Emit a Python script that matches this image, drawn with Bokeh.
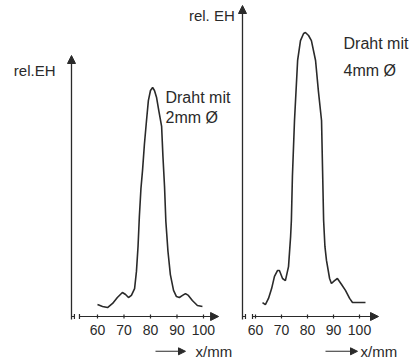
from bokeh.plotting import figure
from bokeh.models import Arrow, NormalHead, Label, FixedTicker, Range1d
from bokeh.layouts import row, column
from bokeh.embed import file_html
from bokeh.resources import INLINE

# ---- data ----
x_2mm = [60.0, 61.9, 63.8, 65.7, 67.5, 69.4, 70.6, 71.7, 72.8, 74.0, 74.7, 75.3, 75.8,
         76.4, 77.0, 77.7, 78.5, 79.2, 80.0, 80.8, 81.5, 82.3, 83.2, 84.2, 84.7, 85.3,
         85.8, 86.6, 87.5, 88.7, 89.8, 90.9, 92.1, 93.2, 94.3, 95.8, 97.7, 99.6]
rel_2mm = [0.052, 0.044, 0.039, 0.057, 0.083, 0.105, 0.096, 0.083, 0.092, 0.122, 0.197,
           0.306, 0.437, 0.559, 0.638, 0.751, 0.856, 0.943, 0.987, 1.000, 0.987, 0.956,
           0.895, 0.830, 0.699, 0.568, 0.415, 0.284, 0.183, 0.114, 0.087, 0.083, 0.092,
           0.100, 0.092, 0.070, 0.048, 0.044]

x_4mm = [62.7, 63.8, 65.0, 66.2, 67.3, 68.5, 69.2, 70.4, 71.5, 72.7, 73.5, 73.8, 74.2,
         75.0, 76.2, 77.3, 78.5, 79.2, 80.4, 81.5, 83.1, 84.2, 85.4, 85.8, 86.2, 86.7,
         87.3, 88.5, 89.2, 90.4, 91.5, 93.1, 94.6, 96.2, 97.3, 99.6, 102.3]
rel_4mm = [0.061, 0.052, 0.079, 0.122, 0.175, 0.201, 0.201, 0.166, 0.157, 0.218, 0.349,
           0.419, 0.611, 0.856, 1.118, 1.205, 1.236, 1.240, 1.227, 1.205, 1.118, 0.983,
           0.856, 0.638, 0.419, 0.306, 0.245, 0.166, 0.144, 0.157, 0.166, 0.140, 0.114,
           0.079, 0.061, 0.061, 0.061]

x_ticks = [60, 70, 80, 90, 100]
y_label = "rel.EH"
y_label_r = "rel. EH"
x_label = "x/mm"
note_2mm = ["Draht mit", "2mm Ø"]
note_4mm = ["Draht mit", "4mm Ø"]

# ---- layout constants ----
FONT = "Liberation Sans"
INK = "#2a2a2a"
Y_RANGE = (-0.0349, 1.3799)
L_X = (23.40, 112.08)
R_X = (52.31, 121.15)
L_W, R_W = 235, 179
MAIN_H, STRIP_H = 342, 22
TICK_HALF = 0.0087
BAR_HALF = 0.011


def head(size=8):
    return NormalHead(size=size, fill_color=INK, line_color=INK, line_width=1)


def make_main(width, xr):
    p = figure(width=width, height=MAIN_H, output_backend="svg", toolbar_location=None,
               x_range=Range1d(*xr), y_range=Range1d(*Y_RANGE), y_axis_type=None,
               min_border_left=0, min_border_right=0, min_border_top=0,
               min_border_bottom=18)
    p.outline_line_color = None
    p.grid.visible = False
    ax = p.xaxis[0]
    ax.ticker = FixedTicker(ticks=x_ticks)
    ax.axis_line_color = None
    ax.major_tick_line_color = None
    ax.minor_tick_line_color = None
    ax.major_tick_in = 0
    ax.major_tick_out = 0
    ax.major_label_standoff = 0
    ax.major_label_text_font = FONT
    ax.major_label_text_font_size = "14px"
    ax.major_label_text_color = INK
    return p


def make_strip(width, xr):
    p = figure(width=width, height=STRIP_H, output_backend="svg", toolbar_location=None,
               x_range=Range1d(*xr), y_range=Range1d(0, 1), x_axis_type=None,
               y_axis_type=None, min_border=0)
    p.outline_line_color = None
    p.grid.visible = False
    return p


def axes_decor(p, x0, x_end, y_top, stub_end, resume):
    # y axis with arrow
    p.add_layout(Arrow(end=head(8), x_start=x0, y_start=-0.013, x_end=x0, y_end=y_top,
                       line_color=INK, line_width=1.3))
    # x axis: short stub, break, then the axis proper with arrow
    p.segment(x0=[x0, stub_end, resume], y0=[0, -BAR_HALF, -BAR_HALF],
              x1=[stub_end, stub_end, resume], y1=[0, BAR_HALF, BAR_HALF],
              line_color=INK, line_width=1.2)
    p.add_layout(Arrow(end=head(8), x_start=resume, y_start=0, x_end=x_end, y_end=0,
                       line_color=INK, line_width=1.2))
    # tick marks crossing the axis
    p.segment(x0=x_ticks, y0=[-TICK_HALF] * len(x_ticks), x1=x_ticks,
              y1=[TICK_HALF] * len(x_ticks), line_color=INK, line_width=1.2)


def lbl(p, x, y, text, size, align="left"):
    p.add_layout(Label(x=x, y=y, text=text, text_font=FONT, text_font_size=size,
                       text_color=INK, text_align=align, text_baseline="middle"))


# ---- left panel ----
pl = make_main(L_W, L_X)
axes_decor(pl, 50.19, 105.7, 1.1397, 51.3, 53.2)
pl.line(x_2mm, rel_2mm, line_color=INK, line_width=1.6)
lbl(pl, 44.15, 1.074, y_label, "15px", align="right")
lbl(pl, 85.66, 0.956, note_2mm[0], "16px")
lbl(pl, 85.66, 0.869, note_2mm[1], "16px")
# y label of the right panel (sits just left of its arrow)
lbl(pl, 111.8, 1.314, y_label_r, "15px", align="right")

sl = make_strip(L_W, L_X)
sl.add_layout(Arrow(end=head(7), x_start=81.89, y_start=0.6, x_end=93.21, y_end=0.6,
                    line_color=INK, line_width=1.1))
lbl(sl, 96.98, 0.6, x_label, "15px")

# ---- right panel ----
pr = make_main(R_W, R_X)
axes_decor(pr, 55.0, 107.31, 1.358, 56.15, 58.85)
pr.line(x_4mm, rel_4mm, line_color=INK, line_width=1.6)
lbl(pr, 93.85, 1.192, note_4mm[0], "16px")
lbl(pr, 93.85, 1.074, note_4mm[1], "16px")

sr = make_strip(R_W, R_X)
sr.add_layout(Arrow(end=head(7), x_start=86.92, y_start=0.6, x_end=99.23, y_end=0.6,
                    line_color=INK, line_width=1.1))
lbl(sr, 100.38, 0.6, x_label, "15px")

layout = row(column(pl, sl), column(pr, sr))
open("out.html", "w").write(file_html(layout, INLINE))
